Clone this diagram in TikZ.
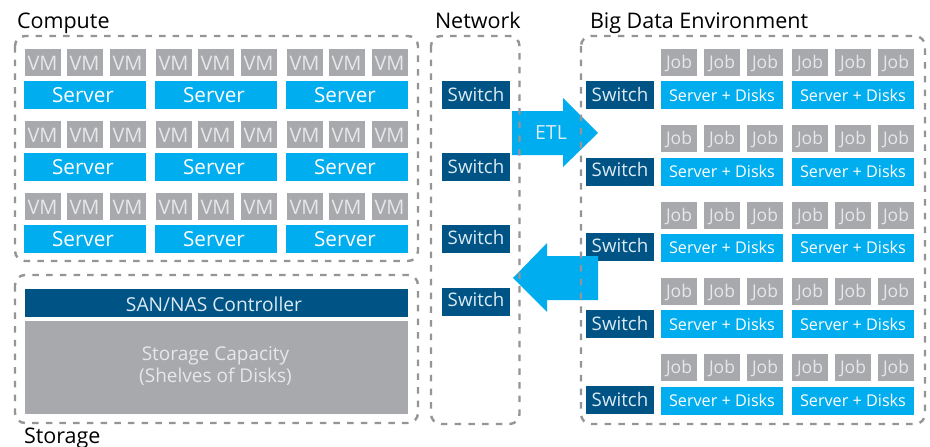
\documentclass[tikz,border=0pt]{standalone}
\usepackage{fontspec}
\setmainfont{Open Sans}
\definecolor{srv}{HTML}{00AEEF}
\definecolor{dark}{HTML}{005385}
\definecolor{grayb}{HTML}{A7A9AC}
\definecolor{dashc}{HTML}{939598}
\definecolor{softw}{HTML}{E6E7E8}
\definecolor{softb}{HTML}{DCEAF3}
\tikzset{
  box/.style={inner sep=0pt,outer sep=0pt,anchor=north west,align=center},
  vmbox/.style={box,fill=grayb,text=softw,minimum width=36,minimum height=27,text height=16.4,text depth=0,font=\fontsize{20}{22}\selectfont},
  jobbox/.style={box,fill=grayb,text=softw,minimum width=36,minimum height=27,text height=12,text depth=0,font=\fontsize{17.5}{20}\selectfont},
  serverbox/.style={box,fill=srv,text=white,minimum width=122,minimum height=28,text height=14,text depth=0,font=\fontsize{20.7}{24}\selectfont},
  sdbox/.style={box,fill=srv,text=white,minimum width=122,minimum height=28,text depth=0,font=\fontsize{16.2}{19}\selectfont},
  switchbox/.style={box,fill=dark,text=softb,minimum width=68,minimum height=28,text depth=0,font=\fontsize{18.7}{22}\selectfont},
  title/.style={inner sep=0pt,outer sep=0pt,anchor=base west,text=black,font=\fontsize{21.5}{24}\selectfont},
  zone/.style={draw=dashc,line width=2.4,rounded corners=10,dash pattern=on 6.5 off 7.2},
  bigarrow/.style={fill=srv,draw=none}
}
\begin{document}
\begin{tikzpicture}[x=1pt,y=-1pt]
\useasboundingbox (0,0) rectangle (930,447);
\fill[white] (0,0) rectangle (930,447);
% titles
\node[title] (tcompute) at (17,28.5) {Compute};
\node[title] (tnetwork) at (435,28.5) {Network};
\node[title] (tbig) at (590,28.5) {Big Data Environment};
\node[title] (tstorage) at (24,443) {Storage};
% compute
\foreach \r/\vy/\sy in {1/49/81,2/121/153,3/193/225}{
  \foreach \c/\sx in {1/24,2/155,3/286}{
    \node[serverbox] (srv\r\c) at (\sx,\sy) {Server\kern4pt};
    \pgfmathsetmacro{\va}{\sx+1}\pgfmathsetmacro{\vb}{\sx+43}\pgfmathsetmacro{\vc}{\sx+86}
    \node[vmbox] (vm\r\c a) at (\va,\vy) {VM\kern1pt};
    \node[vmbox] (vm\r\c b) at (\vb,\vy) {VM\kern1pt};
    \node[vmbox] (vm\r\c c) at (\vc,\vy) {VM\kern1pt};
  }
}
% storage
\node[box,fill=dark,text=softb,minimum width=383,minimum height=28,text height=17.4,text depth=0,font=\fontsize{19.2}{22}\selectfont] (san) at (25,289) {SAN/NAS Controller\kern5pt};
\node[box,fill=grayb,minimum width=383,minimum height=93] (cap) at (25,321) {};
\node[inner sep=0pt,align=center,text=softw,font=\fontsize{19}{22}\selectfont] (captext) at (215.5,366.5) {Storage Capacity\\(Shelves of Disks)};
% network switches
\foreach \i/\y/\h in {1/81/12,2/153/12,3/225/10,4/288/9.4}{
  \node[switchbox,text height=\h] (nsw\i) at (442,\y) {Switch};
}
% big data
\foreach \i/\jy/\sy/\wy/\wh/\sh in {1/49/81/81/12/13.4,2/125/158/158/9.4/11.4,3/202/234/233/10/11.4,4/278/310/310/12/13.4,5/354/387/386/12/11.4}{
  \node[switchbox,text height=\wh] (bsw\i) at (586,\wy) {Switch};
  \foreach \c/\sx in {1/661,2/792}{
    \node[sdbox,text height=\sh] (sd\i\c) at (\sx,\sy) {Server + Disks};
    \pgfmathsetmacro{\va}{\sx}\pgfmathsetmacro{\vb}{\sx+43}\pgfmathsetmacro{\vc}{\sx+86}
    \node[jobbox] (job\i\c a) at (\va,\jy) {Job};
    \node[jobbox] (job\i\c b) at (\vb,\jy) {Job};
    \node[jobbox] (job\i\c c) at (\vc,\jy) {Job};
  }
}
% arrows
\fill[bigarrow] (512,111) -- (563,111) -- (563,98) -- (598,133) -- (563,167) -- (563,155) -- (512,155) -- cycle;
\node[inner sep=0pt,text=softb,font=\fontsize{19.5}{22}\selectfont] (etl) at (551,133) {ETL};
\fill[bigarrow] (598,256) -- (547,256) -- (547,243) -- (513,278) -- (547,312) -- (547,300) -- (598,300) -- cycle;
% zones
\draw[zone] (15,36) rectangle (418,261);
\draw[zone] (15,275) rectangle (418,423);
\draw[zone] (431,36) rectangle (519.5,424);
\draw[zone] (581,36) rectangle (925,424);
\end{tikzpicture}
\end{document}
